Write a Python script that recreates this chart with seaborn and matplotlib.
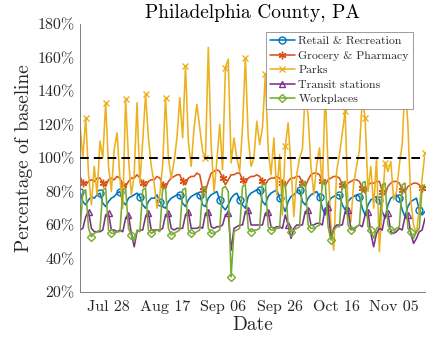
import matplotlib
matplotlib.use("Agg")
import matplotlib.pyplot as plt
import matplotlib.dates as mdates
from matplotlib.ticker import FuncFormatter
import numpy as np
import pandas as pd
import seaborn as sns

start_date = "2020-07-18"

retail = [80, 74, 72, 75, 77, 76, 78,
          79, 73, 71, 74, 76, 77, 79,
          80, 74, 72, 76, 77, 78, 79,
          77, 72, 70, 74, 76, 76, 78,
          74, 71, 70, 74, 76, 77, 78,
          78, 73, 71, 75, 77, 78, 79,
          78, 72, 71, 76, 78, 79, 80,
          75, 71, 69, 72, 76, 78, 79,
          75, 72, 70, 77, 79, 80, 81,
          81, 74, 72, 77, 79, 80, 81,
          76, 72, 68, 74, 77, 78, 80,
          81, 74, 72, 76, 78, 79, 80,
          77, 70, 66, 73, 76, 77, 78,
          78, 72, 69, 74, 76, 77, 78,
          77, 70, 66, 72, 75, 76, 77,
          75, 68, 64, 72, 76, 77, 78,
          76, 69, 65, 71, 74, 75, 76,
          69, 66, 68]

grocery = [89, 85, 84, 86, 87, 86, 88,
           88, 85, 83, 87, 88, 87, 89,
           88, 84, 83, 86, 88, 88, 90,
           88, 85, 83, 86, 87, 87, 89,
           88, 84, 82, 86, 88, 89, 90,
           90, 86, 84, 88, 89, 89, 91,
           90, 81, 80, 86, 91, 92, 93,
           92, 88, 84, 87, 90, 90, 91,
           91, 87, 85, 88, 89, 89, 90,
           89, 86, 84, 87, 88, 88, 89,
           88, 85, 83, 86, 88, 88, 89,
           89, 85, 83, 87, 90, 91, 91,
           90, 86, 84, 87, 88, 89, 89,
           88, 84, 82, 85, 86, 87, 87,
           86, 82, 79, 84, 85, 85, 86,
           86, 80, 78, 83, 85, 86, 86,
           85, 81, 80, 83, 84, 85, 85,
           84, 82, 83]

parks = [120, 100, 124, 90, 72, 95, 78,
         110, 100, 133, 95, 80, 105, 115,
         88, 70, 135, 100, 78, 90, 133,
         85, 110, 138, 112, 95, 85, 70,
         78, 96, 136, 100, 88, 98, 112,
         136, 112, 155, 110, 95, 118, 132,
         118, 104, 100, 166, 108, 80, 98,
         120, 93, 154, 159, 97, 112, 100,
         92, 118, 160, 112, 95, 100, 122,
         108, 118, 150, 105, 90, 112, 78,
         102, 66, 107, 121, 95, 65, 90,
         100, 105, 140, 125, 95, 78, 96,
         106, 82, 140, 95, 60, 45, 92,
         102, 115, 128, 70, 62, 85, 95,
         105, 135, 124, 80, 95, 70, 100,
         44, 72, 97, 92, 98, 75, 80,
         96, 108, 145, 120, 75, 60, 55,
         70, 88, 103]

transit = [57, 58, 65, 68, 58, 56, 56,
           56, 57, 66, 67, 57, 57, 56,
           57, 56, 64, 66, 55, 47, 56,
           57, 57, 65, 67, 57, 57, 57,
           57, 58, 66, 67, 58, 57, 58,
           58, 58, 66, 68, 58, 58, 58,
           59, 58, 67, 68, 59, 58, 59,
           59, 60, 66, 67, 45, 58, 59,
           60, 60, 68, 69, 60, 60, 60,
           60, 60, 67, 68, 59, 58, 59,
           59, 58, 66, 60, 52, 58, 60,
           60, 60, 68, 69, 60, 60, 61,
           61, 60, 70, 71, 52, 58, 60,
           60, 60, 68, 69, 58, 57, 59,
           60, 59, 66, 68, 55, 47, 55,
           58, 57, 66, 67, 56, 55, 56,
           58, 57, 65, 66, 55, 49, 52,
           56, 57, 64]

workplaces = [56, 80, 81, 58, 53, 55, 56,
              57, 81, 82, 57, 55, 55, 56,
              56, 81, 82, 58, 54, 50, 57,
              56, 81, 82, 57, 55, 56, 57,
              56, 82, 82, 58, 54, 55, 56,
              57, 81, 82, 57, 55, 55, 56,
              57, 82, 83, 58, 55, 55, 56,
              57, 82, 83, 80, 29, 56, 57,
              58, 83, 84, 58, 56, 57, 57,
              58, 84, 85, 59, 57, 57, 58,
              58, 84, 85, 60, 56, 57, 58,
              59, 85, 86, 60, 58, 58, 59,
              60, 86, 86, 59, 51, 57, 59,
              59, 85, 86, 60, 57, 58, 59,
              60, 85, 86, 59, 57, 52, 58,
              59, 84, 85, 60, 57, 57, 58,
              59, 84, 85, 58, 56, 52, 56,
              58, 83, 84]

names = ["Retail & Recreation", "Grocery & Pharmacy", "Parks",
         "Transit stations", "Workplaces"]
tick_dates = ["2020-07-28", "2020-08-17", "2020-09-06", "2020-09-26",
              "2020-10-16", "2020-11-05"]
y_ticks = [20, 40, 60, 80, 100, 120, 140, 160, 180]

dates = pd.date_range(start_date, periods=len(retail))
df = pd.DataFrame({"Date": dates, names[0]: retail, names[1]: grocery,
                   names[2]: parks, names[3]: transit, names[4]: workplaces})

sns.set_theme(style="white")
plt.rcParams["font.family"] = "serif"
plt.rcParams["font.serif"] = ["cmr10", "DejaVu Serif"]
plt.rcParams["mathtext.fontset"] = "cm"
plt.rcParams["axes.unicode_minus"] = False
plt.rcParams["axes.formatter.use_mathtext"] = True

colors = ["#0072BD", "#D95319", "#EDB120", "#7E2F8E", "#77AC30"]
markers = ["o", (6, 2, 0), "x", "^", "D"]
msizes = [5, 5.5, 5, 5, 4.2]
offsets = [0, 1, 2, 3, 4]

fig = plt.figure(figsize=(4.26, 3.45), dpi=100)
ax = fig.add_axes([80 / 426, 53 / 345, 345 / 426, 268 / 345])

for name, c, m, ms, off in zip(names, colors, markers, msizes, offsets):
    sns.lineplot(data=df, x="Date", y=name, ax=ax, color=c, lw=1.15,
                 marker=m, markevery=slice(off, None, 7), markersize=ms,
                 markerfacecolor="none", markeredgecolor=c, markeredgewidth=1.0,
                 label=name, estimator=None, errorbar=None)

ax.axhline(100, color="black", lw=1.4, ls=(0, (4.5, 2.6)), zorder=5)

ax.set_xlim(dates[0], dates[-1])
ax.set_ylim(20, 180)
ax.set_yticks(y_ticks)
ax.yaxis.set_major_formatter(FuncFormatter(lambda v, p: f"{v:.0f}%"))
ax.set_xticks(pd.to_datetime(tick_dates))
ax.xaxis.set_major_formatter(mdates.DateFormatter("%b %d"))

for s in ["top", "right"]:
    ax.spines[s].set_visible(False)
for s in ["left", "bottom"]:
    ax.spines[s].set_color("#7f7f7f")
    ax.spines[s].set_linewidth(0.7)
ax.tick_params(direction="in", length=3, width=0.6, color="#7f7f7f",
               labelsize=11.5, labelcolor="#262626")
ax.tick_params(axis="x", pad=6)
ax.tick_params(axis="y", pad=4)

ax.set_xlabel("Date", fontsize=14, color="#262626", labelpad=1)
ax.set_ylabel("Percentage of baseline", fontsize=14, color="#262626", labelpad=3)
ax.set_title("Philadelphia County, PA", fontsize=14, color="black", pad=4)

leg = ax.legend(loc="upper right", bbox_to_anchor=(413 / 426, (345 - 32) / 345),
                bbox_transform=fig.transFigure, fontsize=8.5, frameon=True,
                fancybox=False, framealpha=1, edgecolor="#8c8c8c",
                handlelength=2.1, handletextpad=0.3, borderpad=0.35,
                labelspacing=0.36, borderaxespad=0)
leg.get_frame().set_linewidth(0.6)
for t in leg.get_texts():
    t.set_color("#262626")

fig.savefig("out.png", dpi=100)
